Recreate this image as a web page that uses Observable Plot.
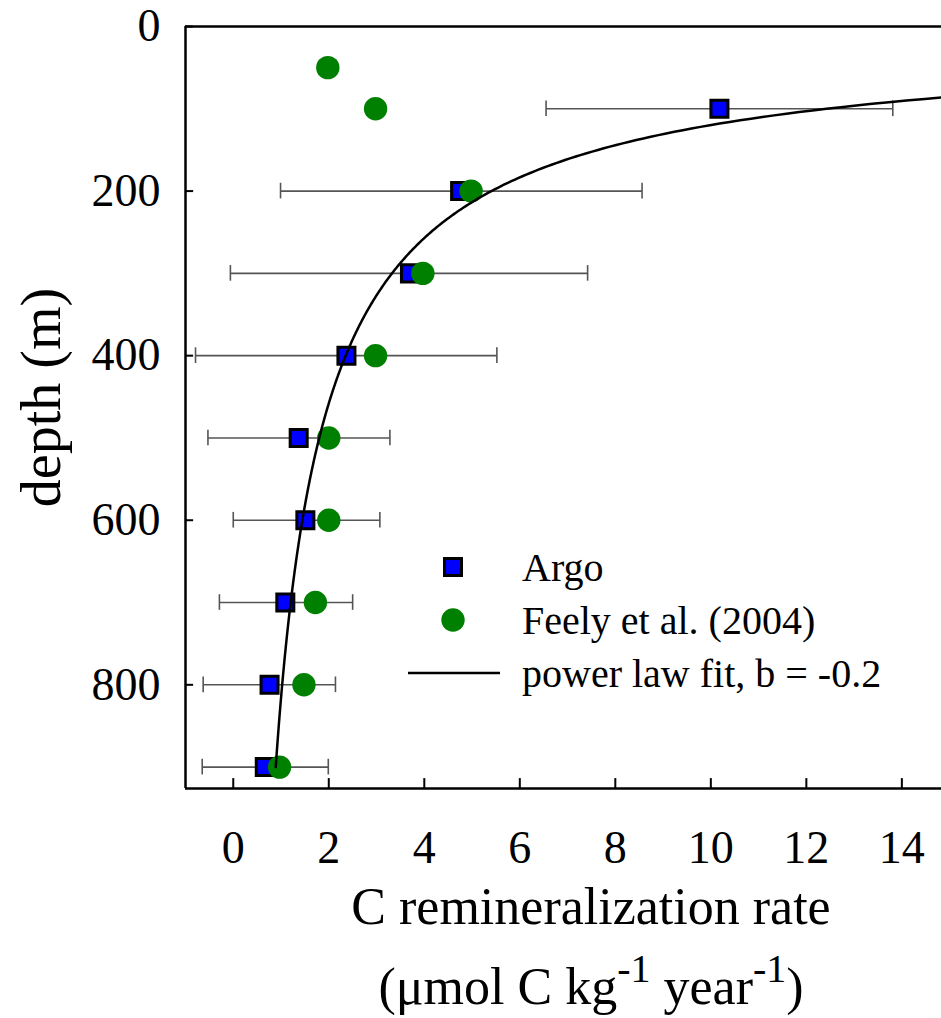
<!DOCTYPE html>
<html>
<head>
<meta charset="utf-8">
<script src="https://cdn.jsdelivr.net/npm/d3@7"></script>
<script src="https://cdn.jsdelivr.net/npm/@observablehq/plot@0.6"></script>
<style>
  html, body { margin: 0; padding: 0; background: #fff; }
  #wrap { position: relative; width: 941px; height: 1018px; overflow: hidden; font-family: "Liberation Serif", "Times New Roman", serif; color: #000; }
  #chart { position: absolute; left: 0; top: 0; }
  .xtitle { position: absolute; left: 0; width: 1182px; text-align: center; font-size: 52px; line-height: 52px; white-space: nowrap; }
  .xtitle sup { font-size: 40px; vertical-align: 22px; line-height: 0; }
  #legend { position: absolute; left: 0; top: 0; }
</style>
</head>
<body>
<div id="wrap">
  <div id="chart"></div>
  <div class="xtitle" style="top:881px">C remineralization rate</div>
  <div class="xtitle" style="top:961px">(μmol C kg<sup>-1</sup> year<sup>-1</sup>)</div>
  <svg id="legend" width="941" height="1018"></svg>
</div>
<script>
// ---- data ----
const argoDepth = [100, 200, 300, 400, 500, 600, 700, 800, 900];
const argoRate  = [10.18, 4.75, 3.70, 2.37, 1.37, 1.51, 1.09, 0.76, 0.66];
const argoLow   = [6.55, 0.99, -0.06, -0.79, -0.53, 0.0, -0.29, -0.63, -0.65];
const argoHigh  = [13.81, 8.56, 7.42, 5.52, 3.28, 3.07, 2.50, 2.14, 1.99];

const feelyDepth = [50, 100, 200, 300, 400, 500, 600, 700, 800, 900];
const feelyRate  = [1.98, 2.98, 4.98, 3.97, 2.98, 2.0, 2.0, 1.72, 1.48, 0.97];

// power law fit: rate = fitCoef * depth^(fitB - 1), b = -0.2
const fitB = -0.2;
const fitCoef = 3120;
const fitDepthStart = 80;
const fitDepthEnd = 900;

const xTicks = [0, 2, 4, 6, 8, 10, 12, 14];
const yTicks = [0, 200, 400, 600, 800];

const xDomain = [-1, 14.83];
const yDomain = [0, 926];

const legendLabels = ["Argo", "Feely et al. (2004)", "power law fit, b = -0.2"];

// ---- derived tables ----
const argo = argoDepth.map((d, i) => ({depth: d, rate: argoRate[i], lo: argoLow[i], hi: argoHigh[i]}));
const feely = feelyDepth.map((d, i) => ({depth: d, rate: feelyRate[i]}));
const fit = d3.range(fitDepthStart, fitDepthEnd + 0.001, 2).map(z => ({depth: z, rate: fitCoef * Math.pow(z, fitB - 1)}));

const capHalf = 9.5;   // half height of error-bar caps (m)
const xTickLen = 12;   // inward tick length in depth units
const yTickLen = 0.17; // inward tick length in rate units

const font = '"Liberation Serif", "Times New Roman", serif';

const chart = Plot.plot({
  width: 941,
  height: 880,
  marginLeft: 185,
  marginRight: 0,
  marginTop: 26,
  marginBottom: 92,
  style: {fontFamily: font, color: "#000", background: "transparent", overflow: "visible"},
  x: {domain: xDomain},
  y: {domain: yDomain, reverse: true},
  marks: [
    // frame lines: left, bottom, top
    Plot.ruleX([xDomain[0]], {stroke: "#000", strokeWidth: 2.5}),
    Plot.ruleY([yDomain[1]], {stroke: "#000", strokeWidth: 2.5}),
    Plot.ruleY([yDomain[0]], {stroke: "#000", strokeWidth: 2.5}),
    // inward ticks
    Plot.ruleX(xTicks, {x: d => d, y1: yDomain[1], y2: yDomain[1] - xTickLen, stroke: "#000", strokeWidth: 2}),
    Plot.ruleY(yTicks, {y: d => d, x1: xDomain[0], x2: xDomain[0] + yTickLen, stroke: "#000", strokeWidth: 2}),
    // tick labels
    Plot.axisX(xTicks, {tickSize: 0, tickPadding: 42, fontSize: 46, label: null}),
    Plot.axisY(yTicks, {tickSize: 0, tickPadding: 25, fontSize: 46, label: null}),
    // y title
    Plot.text(["depth (m)"], {frameAnchor: "left", textAnchor: "middle", rotate: -90, dx: -143, dy: -10, fontSize: 56, fill: "#000"}),
    // error bars
    Plot.link(argo, {x1: "lo", x2: "hi", y1: "depth", y2: "depth", stroke: "#555", strokeWidth: 1.6}),
    Plot.ruleX(argo, {x: "lo", y1: d => d.depth - capHalf, y2: d => d.depth + capHalf, stroke: "#555", strokeWidth: 1.6}),
    Plot.ruleX(argo, {x: "hi", y1: d => d.depth - capHalf, y2: d => d.depth + capHalf, stroke: "#555", strokeWidth: 1.6}),
    // Argo squares
    Plot.dot(argo, {x: "rate", y: "depth", symbol: "square", r: 9.6, fill: "#0000ff", stroke: "#000", strokeWidth: 3}),
    // Feely circles
    Plot.dot(feely, {x: "rate", y: "depth", r: 11.7, fill: "#008000", stroke: "none"}),
    // power law fit
    Plot.line(fit, {x: "rate", y: "depth", stroke: "#000", strokeWidth: 2.5, curve: "linear", clip: true})
  ]
});
document.getElementById("chart").append(chart);

// ---- legend ----
const svg = d3.select("#legend");
const lx = 453, tx = 522;
const rows = [567, 620, 673];
svg.append("rect").attr("x", lx - 8.5).attr("y", rows[0] - 8.5).attr("width", 17).attr("height", 17)
  .attr("fill", "#0000ff").attr("stroke", "#000").attr("stroke-width", 3);
svg.append("circle").attr("cx", lx).attr("cy", rows[1]).attr("r", 11.7).attr("fill", "#008000");
svg.append("line").attr("x1", 408).attr("x2", 500).attr("y1", rows[2]).attr("y2", rows[2])
  .attr("stroke", "#000").attr("stroke-width", 2.5);
legendLabels.forEach((t, i) => {
  svg.append("text").attr("x", tx).attr("y", rows[i] + 14).attr("font-family", font)
    .attr("font-size", 40).attr("fill", "#000").text(t);
});
</script>
</body>
</html>
